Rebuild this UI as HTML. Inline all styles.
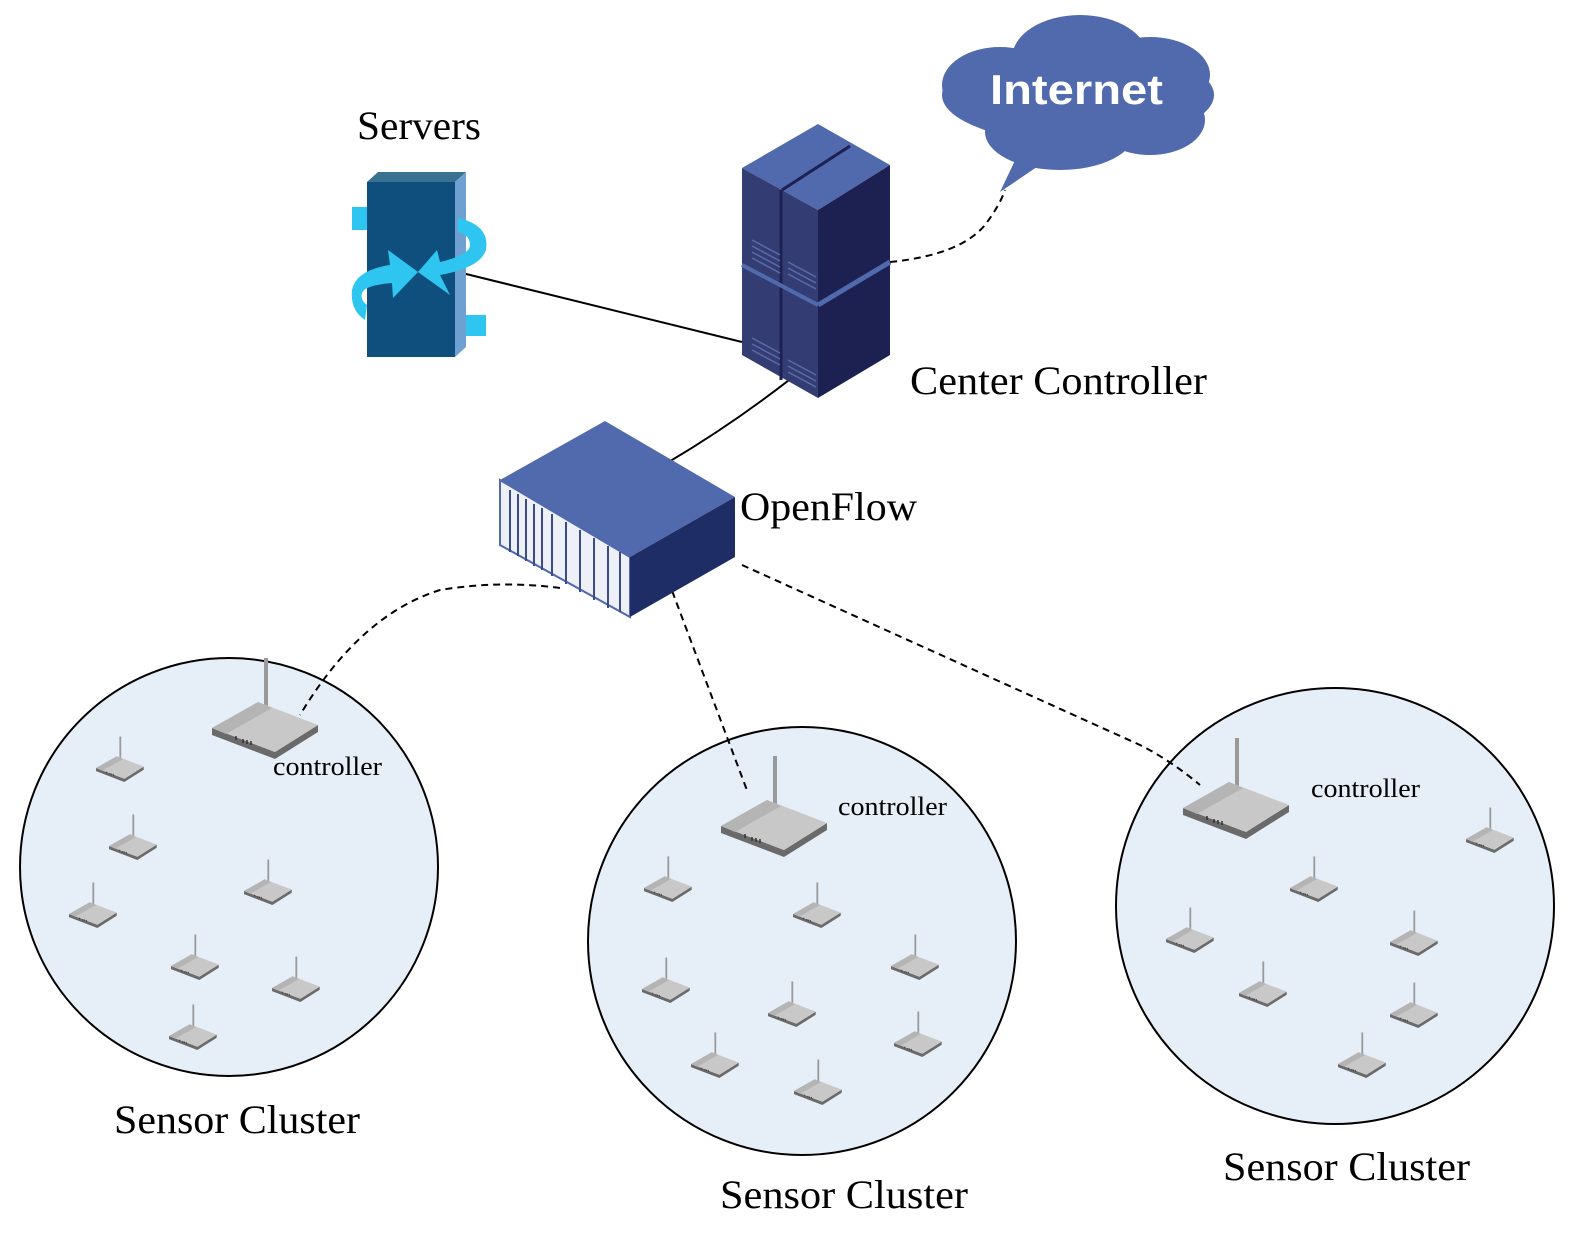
<!DOCTYPE html>
<html><head><meta charset="utf-8"><style>html,body{margin:0;padding:0;background:#fff}svg{display:block}</style></head>
<body>
<svg width="1584" height="1240" viewBox="0 0 1584 1240" xmlns="http://www.w3.org/2000/svg" font-family="Liberation Serif, serif">
<defs>
<g id="rt">
  <line x1="54" y1="-70" x2="54" y2="-18" stroke="#999" stroke-width="4"/>
  <polygon points="0,0 0,7 63,31 106,4 106,-3 63,24" fill="#6a6a6a"/>
  <polygon points="0,0 46,-26 106,-3 63,24" fill="#c8c8c8"/>
  <polygon points="0,0 46,-26 60,-20 14,6" fill="#b4b4b4"/>
  <g stroke="#333" stroke-width="1.5"><line x1="24" y1="8" x2="24" y2="12"/><line x1="31" y1="11" x2="31" y2="15"/><line x1="35" y1="12" x2="35" y2="16"/><line x1="39" y1="13" x2="39" y2="17"/></g>
</g>
</defs>
<circle cx="229" cy="867" r="209" fill="#e6eef8" stroke="#000" stroke-width="2"/>
<circle cx="802" cy="941" r="214" fill="#e6eef8" stroke="#000" stroke-width="2"/>
<ellipse cx="1335" cy="906" rx="219" ry="218" fill="#e6eef8" stroke="#000" stroke-width="2"/>

<g fill="#5169ad">
<ellipse cx="1078" cy="95" rx="136" ry="48"/>
<ellipse cx="1080" cy="58" rx="68" ry="43"/>
<ellipse cx="1150" cy="75" rx="60" ry="38"/>
<ellipse cx="1000" cy="85" rx="58" ry="38"/>
<ellipse cx="1060" cy="132" rx="75" ry="38"/>
<ellipse cx="1150" cy="120" rx="55" ry="35"/>
<polygon points="1020,150 1000,192 1050,158"/>
</g>
<text x="990" y="104" textLength="173" lengthAdjust="spacingAndGlyphs" fill="#fff" font-family="Liberation Sans, sans-serif" font-weight="bold" font-size="42">Internet</text>

<g fill="none" stroke="#000" stroke-width="2">
<line x1="458" y1="272" x2="742" y2="342"/>
<path d="M808,365 Q740,420 667,463"/>
</g>
<g fill="none" stroke="#000" stroke-width="2" stroke-dasharray="7,5">
<path d="M890,262 Q960,255 985,225 Q1000,205 1005,190"/>
<path d="M560,588 Q500,580 440,590 Q360,615 300,715"/>
<line x1="668" y1="580" x2="748" y2="793"/>
<path d="M742,565 L1140,745 Q1170,760 1200,785"/>
</g>

<polygon points="367,182 378,172 466,172 455,182" fill="#3a7090"/>
<rect x="367" y="182" width="88" height="175" fill="#0f4f7e"/>
<polygon points="455,182 466,172 466,347 455,357" fill="#6ea1d1"/>
<rect x="352" y="207" width="15" height="23" fill="#2ec6f0"/>
<rect x="466" y="315" width="20" height="21" fill="#2ec6f0"/>
<path d="M458,218 Q490,225 486,250 Q480,268 440,275 L450,295 L418,272 L437,250 L440,262 Q470,255 470,245 Q470,235 458,232 Z" fill="#2ec6f0"/>
<path d="M365,320 Q350,310 352,290 Q356,270 390,265 L388,250 L418,272 L393,298 L392,283 Q365,285 362,293 Q360,300 367,305 Z" fill="#2ec6f0"/>

<polygon points="742,168 818,124 890,165 818,210" fill="#5169ad"/>
<polygon points="742,168 818,210 818,398 742,355" fill="#333d73"/>
<polygon points="818,210 890,165 890,355 818,398" fill="#1d2151"/>
<line x1="782" y1="190" x2="850" y2="146" stroke="#1d2151" stroke-width="3"/>
<line x1="781" y1="190" x2="781" y2="380" stroke="#1d2151" stroke-width="3"/>
<line x1="742" y1="265" x2="818" y2="305" stroke="#5169ad" stroke-width="4"/>
<line x1="818" y1="305" x2="890" y2="262" stroke="#5169ad" stroke-width="5"/>
<g stroke="#5a6aa8" stroke-width="1.5">
<line x1="752" y1="240" x2="780" y2="255"/><line x1="752" y1="246" x2="780" y2="261"/><line x1="752" y1="252" x2="780" y2="267"/><line x1="752" y1="258" x2="780" y2="273"/>
<line x1="788" y1="262" x2="816" y2="277"/><line x1="788" y1="268" x2="816" y2="283"/><line x1="788" y1="274" x2="816" y2="289"/>
<line x1="752" y1="338" x2="780" y2="353"/><line x1="752" y1="344" x2="780" y2="359"/><line x1="752" y1="350" x2="780" y2="365"/>
<line x1="788" y1="360" x2="816" y2="375"/><line x1="788" y1="366" x2="816" y2="381"/><line x1="788" y1="372" x2="816" y2="387"/>
</g>

<polygon points="500,480 605,421 735,497 630,557" fill="#5169ad"/>
<polygon points="500,480 630,557 630,617 500,545" fill="#eef0f8" stroke="#5169ad" stroke-width="2"/>
<g stroke="#3a4a8a" stroke-width="2">
<line x1="510" y1="490" x2="510" y2="552"/><line x1="518" y1="494" x2="518" y2="556"/><line x1="526" y1="499" x2="526" y2="561"/><line x1="534" y1="504" x2="534" y2="566"/><line x1="542" y1="508" x2="542" y2="570"/><line x1="552" y1="514" x2="552" y2="576"/><line x1="566" y1="522" x2="566" y2="584"/><line x1="580" y1="530" x2="580" y2="592"/><line x1="594" y1="538" x2="594" y2="600"/><line x1="608" y1="546" x2="608" y2="608"/><line x1="620" y1="552" x2="620" y2="612"/>
</g>
<polygon points="630,557 735,497 735,557 630,617" fill="#1f2d66"/>

<use href="#rt" transform="translate(212,728)"/>
<use href="#rt" transform="translate(721,826)"/>
<use href="#rt" transform="translate(1183,808)"/>
<g>
<use href="#rt" transform="translate(96,768) scale(0.45)"/>
<use href="#rt" transform="translate(109,846) scale(0.45)"/>
<use href="#rt" transform="translate(69,914) scale(0.45)"/>
<use href="#rt" transform="translate(244,891) scale(0.45)"/>
<use href="#rt" transform="translate(171,966) scale(0.45)"/>
<use href="#rt" transform="translate(272,988) scale(0.45)"/>
<use href="#rt" transform="translate(169,1036) scale(0.45)"/>
<use href="#rt" transform="translate(644,888) scale(0.45)"/>
<use href="#rt" transform="translate(793,914) scale(0.45)"/>
<use href="#rt" transform="translate(891,966) scale(0.45)"/>
<use href="#rt" transform="translate(642,989) scale(0.45)"/>
<use href="#rt" transform="translate(768,1013) scale(0.45)"/>
<use href="#rt" transform="translate(894,1043) scale(0.45)"/>
<use href="#rt" transform="translate(691,1064) scale(0.45)"/>
<use href="#rt" transform="translate(794,1091) scale(0.45)"/>
<use href="#rt" transform="translate(1466,839) scale(0.45)"/>
<use href="#rt" transform="translate(1290,888) scale(0.45)"/>
<use href="#rt" transform="translate(1166,939) scale(0.45)"/>
<use href="#rt" transform="translate(1390,942) scale(0.45)"/>
<use href="#rt" transform="translate(1239,993) scale(0.45)"/>
<use href="#rt" transform="translate(1390,1014) scale(0.45)"/>
<use href="#rt" transform="translate(1338,1064) scale(0.45)"/>
</g>

<g fill="#000" font-size="40">
<text x="357" y="139" textLength="124" lengthAdjust="spacingAndGlyphs">Servers</text>
<text x="910" y="394" textLength="297" lengthAdjust="spacingAndGlyphs">Center Controller</text>
<text x="740" y="520" textLength="177" lengthAdjust="spacingAndGlyphs">OpenFlow</text>
<text x="114" y="1133" textLength="246" lengthAdjust="spacingAndGlyphs">Sensor Cluster</text>
<text x="720" y="1208" textLength="248" lengthAdjust="spacingAndGlyphs">Sensor Cluster</text>
<text x="1223" y="1180" textLength="247" lengthAdjust="spacingAndGlyphs">Sensor Cluster</text>
<text x="273" y="775" font-size="26" textLength="109" lengthAdjust="spacingAndGlyphs">controller</text>
<text x="838" y="815" font-size="26" textLength="109" lengthAdjust="spacingAndGlyphs">controller</text>
<text x="1311" y="797" font-size="26" textLength="109" lengthAdjust="spacingAndGlyphs">controller</text>
</g>
</svg>
</body></html>
